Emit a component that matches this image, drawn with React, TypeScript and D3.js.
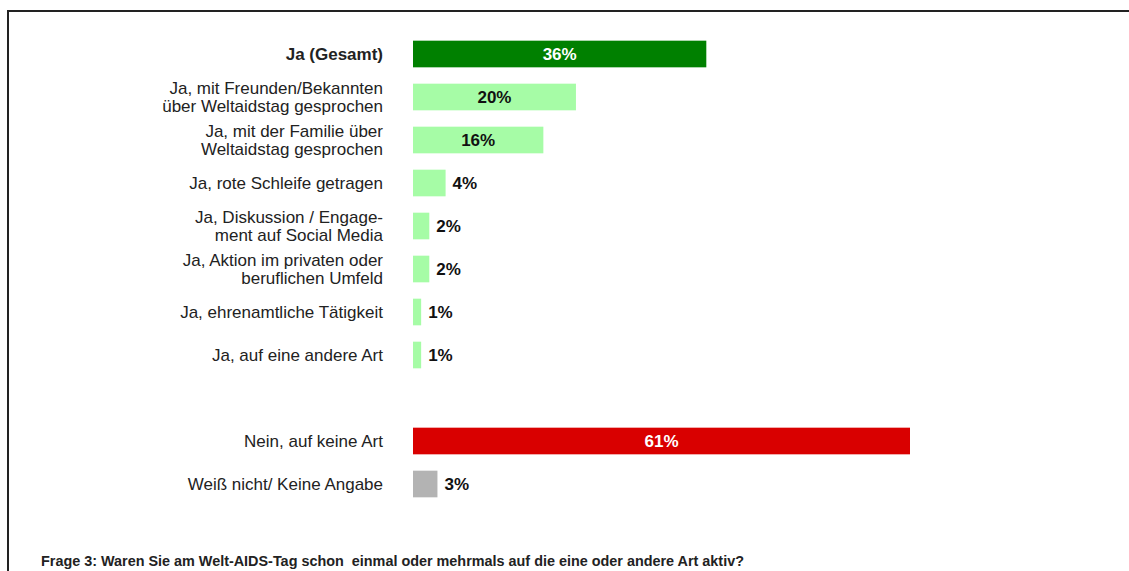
import React from "react";
import * as d3 from "d3";

// categories (empty string = spacer row between "Ja" and "Nein")
const categories = [
  "Ja (Gesamt)",
  "Ja, mit Freunden/Bekannten|über Weltaidstag gesprochen",
  "Ja, mit der Familie über|Weltaidstag gesprochen",
  "Ja, rote Schleife getragen",
  "Ja, Diskussion / Engage-|ment auf Social Media",
  "Ja, Aktion im privaten oder|beruflichen Umfeld",
  "Ja, ehrenamtliche Tätigkeit",
  "Ja, auf eine andere Art",
  "",
  "Nein, auf keine Art",
  "Weiß nicht/ Keine Angabe",
];
const values = [36, 20, 16, 4, 2, 2, 1, 1, null, 61, 3];
const kinds = ["total", "yes", "yes", "yes", "yes", "yes", "yes", "yes", "", "no", "dk"];

const footnote =
  "Frage 3: Waren Sie am Welt-AIDS-Tag schon  einmal oder mehrmals auf die eine oder andere Art aktiv?";

const fills: Record<string, string> = {
  total: "#008000",
  yes: "#a6fca6",
  no: "#d90000",
  dk: "#b3b3b3",
};
const labelColors: Record<string, string> = {
  total: "#ffffff",
  yes: "#111111",
  no: "#ffffff",
  dk: "#111111",
};

const W = 1129;
const H = 571;
const font = "'Liberation Sans', Arial, sans-serif";

export default function App() {
  const x = d3.scaleLinear().domain([0, 61]).range([413, 910]);
  const y = d3
    .scaleBand<number>()
    .domain(d3.range(categories.length))
    .range([32.5, 505.5])
    .paddingInner(0.38)
    .paddingOuter(0.19);

  return (
    <svg
      width={W}
      height={H}
      style={{ position: "absolute", left: 0, top: 0, background: "#fff" }}
    >
      {/* frame */}
      <line x1={7} x2={W} y1={11} y2={11} stroke="#222" strokeWidth={2} />
      <line x1={8} x2={8} y1={10} y2={H} stroke="#222" strokeWidth={2} />

      {categories.map((cat, i) => {
        const v = values[i];
        if (v == null) return null;
        const k = kinds[i];
        const yc = y(i)! + y.bandwidth() / 2;
        const lines = cat.split("|");
        const inside = v >= 10;
        return (
          <g key={i}>
            <text
              x={383}
              y={yc}
              textAnchor="end"
              fontFamily={font}
              fontSize={17}
              fontWeight={k === "total" ? "bold" : "normal"}
              fill="#222"
            >
              {lines.map((l, j) => (
                <tspan
                  key={j}
                  x={383}
                  dy={j === 0 ? (lines.length === 1 ? 6 : -3) : 17.5}
                >
                  {l}
                </tspan>
              ))}
            </text>
            <rect
              x={x(0)}
              y={y(i)}
              width={x(v) - x(0)}
              height={y.bandwidth()}
              fill={fills[k]}
            />
            <text
              x={inside ? (x(0) + x(v)) / 2 : x(v) + 7}
              y={yc + 6}
              textAnchor={inside ? "middle" : "start"}
              fontFamily={font}
              fontSize={17}
              fontWeight="bold"
              fill={inside ? labelColors[k] : "#111"}
            >
              {v}%
            </text>
          </g>
        );
      })}

      <text
        x={41}
        y={566}
        fontFamily={font}
        fontSize={14.4}
        fontWeight="bold"
        fill="#222"
        style={{ whiteSpace: "pre" }}
      >
        {footnote}
      </text>
    </svg>
  );
}
